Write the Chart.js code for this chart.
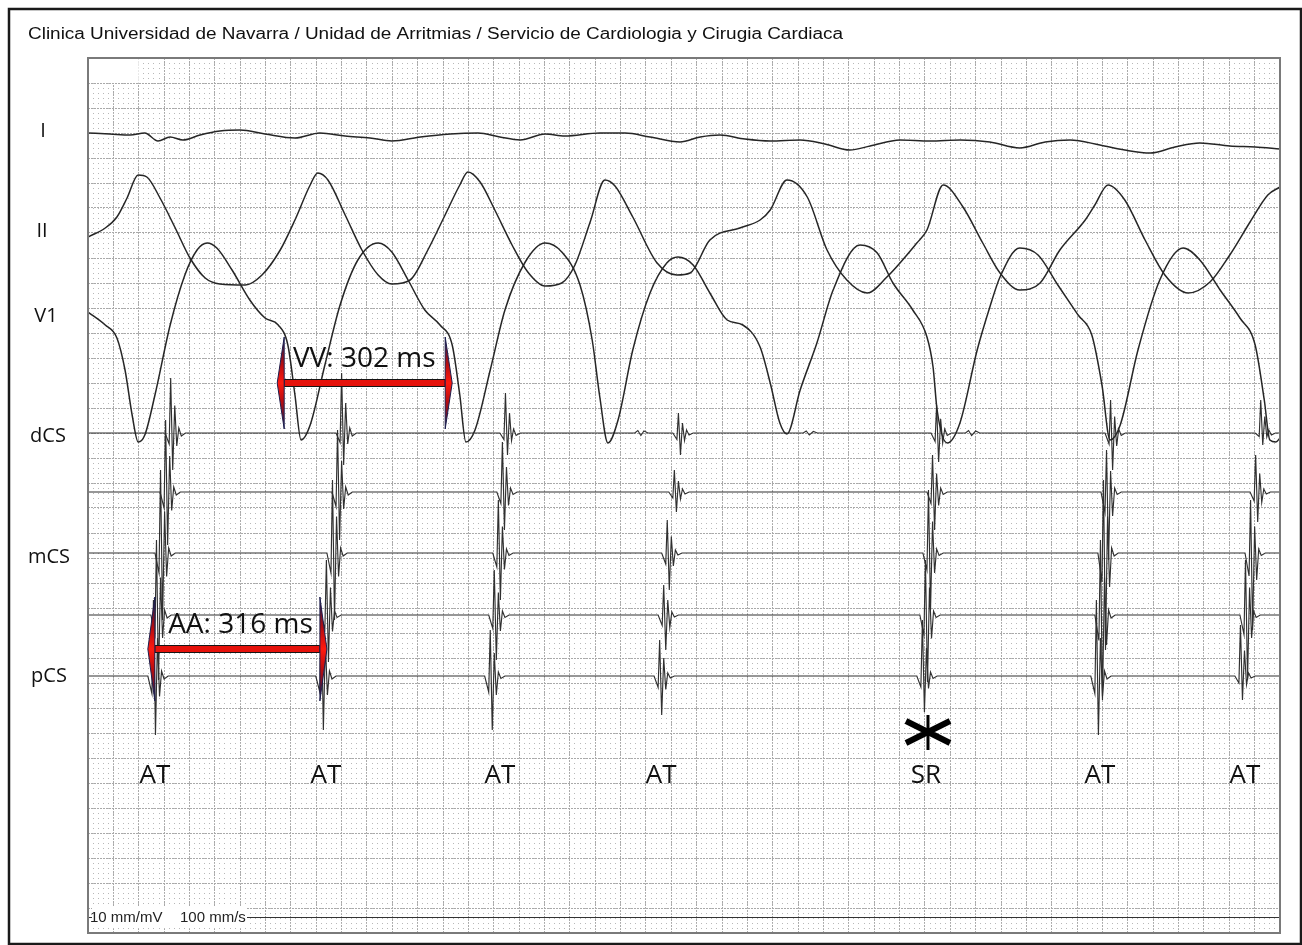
<!DOCTYPE html>
<html>
<head>
<meta charset="utf-8">
<title>Taquicardia auricular - electrogramas</title>
<script src="https://cdn.jsdelivr.net/npm/chart.js@4.4.1/dist/chart.umd.min.js"></script>
<style>
  html, body { margin: 0; padding: 0; background: #fff; }
  #wrap { width: 1302px; height: 945px; }
</style>
</head>
<body>
<div id="wrap"><canvas id="egm" width="1302" height="945"></canvas></div>
<script>
// Registro: 100 mm/s, 10 mm/mV. Tiempo en ms, amplitud en mV (respecto a la linea base de cada canal)

const T_MAX = 2350;      // ms visibles
const DEPTH = 175;       // mm de papel en vertical
const GAIN = 10;         // mm por mV

// Derivaciones de superficie
const leadI = [[0,0],[43,-0.02],[83,-0.04],[112,0],[138,-0.16],[162,-0.08],[187,-0.14],[221,-0.04],[260,0.04],[300,0.06],[349,-0.02],[408,-0.1],[457,0],[507,-0.06],[556,-0.1],[599,-0.16],[655,-0.08],[714,-0.02],[769,0],[812,-0.08],[852,-0.14],[901,-0.02],[940,-0.06],[1009,0],[1059,0],[1108,-0.08],[1167,-0.18],[1207,-0.08],[1246,-0.04],[1295,-0.12],[1345,-0.16],[1404,-0.14],[1453,-0.22],[1502,-0.34],[1542,-0.26],[1601,-0.14],[1660,-0.16],[1719,-0.14],[1778,-0.18],[1837,-0.3],[1887,-0.18],[1936,-0.14],[1995,-0.24],[2044,-0.34],[2094,-0.4],[2143,-0.28],[2192,-0.2],[2251,-0.26],[2301,-0.28],[2350,-0.32]];

const leadII = [[0,-0.08],[34,0.1],[57,0.32],[77,0.7],[99,1.16],[116,1.12],[142,0.7],[172,0.1],[201,-0.5],[231,-0.9],[260,-1.02],[310,-1.04],[343,-0.84],[379,-0.34],[408,0.26],[438,0.96],[453,1.2],[473,1.06],[507,0.36],[540,-0.34],[572,-0.84],[599,-1.02],[635,-0.94],[670,-0.34],[704,0.36],[733,0.96],[749,1.22],[773,1.02],[802,0.46],[836,-0.24],[867,-0.78],[901,-1.06],[934,-1.0],[960,-0.64],[990,0.22],[1019,1.06],[1039,0.94],[1074,0.32],[1122,-0.6],[1161,-0.84],[1187,-0.8],[1226,-0.14],[1285,0.1],[1325,0.26],[1345,0.46],[1378,1.06],[1418,0.72],[1457,-0.34],[1496,-0.94],[1536,-1.2],[1575,-0.88],[1634,-0.2],[1654,0.06],[1686,0.96],[1725,0.52],[1764,-0.2],[1798,-0.8],[1837,-1.14],[1877,-1.0],[1916,-0.34],[1966,0.26],[1985,0.56],[2011,0.96],[2044,0.66],[2084,-0.14],[2123,-0.84],[2169,-1.2],[2212,-0.98],[2251,-0.44],[2291,0.22],[2326,0.76],[2350,0.92]];

const leadV1 = [[0,0.12],[34,-0.14],[57,-0.4],[73,-1.04],[87,-1.94],[99,-2.48],[112,-2.34],[132,-1.54],[162,-0.14],[191,0.86],[215,1.36],[235,1.5],[254,1.4],[284,0.96],[319,0.36],[349,0],[375,-0.14],[394,-0.54],[408,-1.54],[420,-2.44],[438,-2.14],[467,-0.94],[497,0.26],[532,1.16],[572,1.5],[599,1.32],[631,0.76],[664,0.16],[694,-0.14],[718,-0.54],[733,-1.54],[745,-2.48],[763,-2.24],[793,-1.04],[822,0.16],[862,1.12],[901,1.5],[934,1.32],[970,0.66],[994,-0.44],[1009,-1.58],[1025,-2.5],[1045,-2.04],[1074,-0.64],[1108,0.5],[1141,1.1],[1163,1.22],[1193,1.06],[1226,0.5],[1260,-0.04],[1291,-0.14],[1325,-0.58],[1345,-1.3],[1364,-2.1],[1378,-2.32],[1404,-1.44],[1437,-0.5],[1469,0.56],[1522,1.46],[1556,1.3],[1587,0.7],[1626,0.16],[1654,-0.38],[1666,-0.98],[1674,-1.84],[1694,-2.5],[1719,-2.1],[1753,-0.64],[1778,0.22],[1798,0.82],[1837,1.4],[1873,1.26],[1912,0.66],[1952,0.06],[1979,-0.34],[1999,-1.34],[2015,-2.44],[2035,-2.14],[2070,-0.64],[2113,0.76],[2159,1.4],[2192,1.16],[2232,0.56],[2271,0],[2301,-0.54],[2319,-1.64],[2330,-2.44],[2342,-2.48],[2350,-2.4]];

// Seno coronario (distal -> proximal)
const csDistal = [[0,0],
  [152,0],[160,-0.22],[163,1.1],[167,-0.74],[171,0.55],[175,-0.26],[179,0.1],[184,-0.06],[192,0],
  [489,0],[497,-0.19],[500,1.2],[504,-0.64],[508,0.6],[512,-0.22],[516,0.1],[521,-0.06],[529,0],
  [812,0],[820,-0.13],[823,0.8],[827,-0.44],[831,0.4],[835,-0.15],[839,0.08],[844,-0.05],[852,0],
  [1078,0],[1084,0.05],[1090,-0.05],[1096,0.04],[1104,0],
  [1153,0],[1161,-0.13],[1164,0.4],[1168,-0.44],[1172,0.2],[1176,-0.15],[1180,0.06],[1185,-0.04],[1193,0],
  [1410,0],[1416,0.04],[1422,-0.04],[1430,0.03],[1438,0],
  [1662,0],[1670,-0.17],[1673,0.56],[1677,-0.58],[1681,0.28],[1685,-0.2],[1689,0.08],[1694,-0.05],[1702,0],
  [1730,0],[1736,0.05],[1742,-0.05],[1750,0.04],[1758,0],
  [2005,0],[2013,-0.22],[2016,0.66],[2020,-0.74],[2024,0.33],[2028,-0.26],[2032,0.08],[2037,-0.05],[2045,0],
  [2301,0],[2309,-0.07],[2312,0.66],[2316,-0.24],[2320,0.33],[2324,-0.08],[2328,0.06],[2333,-0.04],[2341,0],
  [2350,0]];

const cs2 = [[0,0],
  [142,0],[150,-0.32],[153,1.44],[157,-1.06],[161,0.72],[165,-0.37],[169,0.1],[174,-0.06],[182,0],
  [481,0],[489,-0.29],[492,1.24],[496,-0.96],[500,0.62],[504,-0.34],[508,0.1],[513,-0.06],[521,0],
  [806,0],[814,-0.23],[817,1.0],[821,-0.76],[825,0.5],[829,-0.27],[833,0.08],[838,-0.05],[846,0],
  [1145,0],[1153,-0.12],[1156,0.44],[1160,-0.4],[1164,0.22],[1168,-0.14],[1172,0.06],[1177,-0.04],[1185,0],
  [1654,0],[1662,-0.23],[1665,0.74],[1669,-0.76],[1673,0.37],[1677,-0.27],[1681,0.08],[1686,-0.05],[1694,0],
  [1997,0],[2005,-0.41],[2008,0.84],[2012,-1.36],[2016,0.42],[2020,-0.48],[2024,0.08],[2029,-0.05],[2037,0],
  [2291,0],[2299,-0.18],[2302,0.74],[2306,-0.6],[2310,0.37],[2314,-0.21],[2318,0.06],[2323,-0.04],[2331,0],
  [2350,0]];

const csMid = [[0,0],
  [132,0],[140,-0.4],[143,1.66],[147,-1.34],[151,0.83],[155,-0.47],[159,0.1],[164,-0.06],[172,0],
  [471,0],[479,-0.4],[482,1.46],[486,-1.34],[490,0.73],[494,-0.47],[498,0.1],[503,-0.06],[511,0],
  [798,0],[806,-0.28],[809,1.06],[813,-0.94],[817,0.53],[821,-0.33],[825,0.08],[830,-0.05],[838,0],
  [1131,0],[1139,-0.22],[1142,0.66],[1146,-0.74],[1150,0.33],[1154,-0.26],[1158,0.06],[1163,-0.04],[1171,0],
  [1646,0],[1654,-0.34],[1657,1.26],[1661,-1.14],[1665,0.63],[1669,-0.4],[1673,0.08],[1678,-0.05],[1686,0],
  [1991,0],[1999,-0.58],[2002,1.46],[2006,-1.94],[2010,0.73],[2014,-0.68],[2018,0.1],[2023,-0.06],[2031,0],
  [2281,0],[2289,-0.46],[2292,1.06],[2296,-1.54],[2300,0.53],[2304,-0.54],[2308,0.08],[2313,-0.05],[2321,0],
  [2350,0]];

const cs4 = [[0,0],
  [124,0],[132,-0.39],[135,1.5],[139,-1.3],[143,0.75],[147,-0.46],[151,0.1],[156,-0.06],[164,0],
  [459,0],[467,-0.28],[470,1.1],[474,-0.94],[478,0.55],[482,-0.33],[486,0.08],[491,-0.05],[499,0],
  [790,0],[798,-0.27],[801,0.9],[805,-0.9],[809,0.45],[813,-0.32],[817,0.08],[822,-0.05],[830,0],
  [1124,0],[1132,-0.21],[1135,0.6],[1139,-0.7],[1143,0.3],[1147,-0.25],[1151,0.06],[1156,-0.04],[1164,0],
  [1640,0],[1648,-0.4],[1651,1.1],[1655,-1.34],[1659,0.55],[1663,-0.47],[1667,0.08],[1672,-0.05],[1680,0],
  [1985,0],[1993,-0.51],[1996,1.5],[2000,-1.7],[2004,0.75],[2008,-0.6],[2012,0.1],[2017,-0.06],[2025,0],
  [2271,0],[2279,-0.39],[2282,1.1],[2286,-1.3],[2290,0.55],[2294,-0.46],[2298,0.08],[2303,-0.05],[2311,0],
  [2350,0]];

const csProx = [[0,0],
  [118,0],[126,-0.35],[129,1.52],[133,-1.18],[137,0.76],[141,-0.41],[145,0.1],[150,-0.06],[158,0],
  [449,0],[457,-0.32],[460,1.32],[464,-1.08],[468,0.66],[472,-0.38],[476,0.1],[481,-0.06],[489,0],
  [782,0],[790,-0.32],[793,0.92],[797,-1.08],[801,0.46],[805,-0.38],[809,0.08],[814,-0.05],[822,0],
  [1116,0],[1124,-0.23],[1127,0.72],[1131,-0.78],[1135,0.36],[1139,-0.27],[1143,0.06],[1148,-0.04],[1156,0],
  [1634,0],[1642,-0.22],[1645,1.12],[1649,-0.72],[1653,0.56],[1657,-0.25],[1661,0.08],[1666,-0.05],[1674,0],
  [1977,0],[1985,-0.35],[1988,1.52],[1992,-1.18],[1996,0.76],[2000,-0.41],[2004,0.1],[2009,-0.06],[2017,0],
  [2261,0],[2269,-0.14],[2272,1.02],[2276,-0.48],[2280,0.51],[2284,-0.17],[2288,0.06],[2293,-0.04],[2301,0],
  [2350,0]];

// Anotaciones del trazado
const beatLabels = ['AT', 'AT', 'AT', 'AT', 'SR', 'AT', 'AT'];
const beatLabelTimes = [132, 469, 812, 1130, 1652, 1995, 2281];
const srMarkTime = 1656;
const vvInterval = [373, 718];   // ms, flecha "VV: 302 ms"
const aaInterval = [118, 471];   // ms, flecha "AA: 316 ms"

// canales: nombre, muestras, linea base (mm desde arriba), suavizado, posicion de etiqueta
const channels = [
  { name: 'I',   samples: leadI,     base: -15,    smooth: true,  labelX: 43, labelDy: 4 },
  { name: 'II',  samples: leadII,    base: -35,    smooth: true,  labelX: 42, labelDy: 4 },
  { name: 'V1',  samples: leadV1,    base: -52,    smooth: true,  labelX: 46, labelDy: 4 },
  { name: 'dCS', samples: csDistal,  base: -75,    smooth: false, labelX: 48, labelDy: 9 },
  { name: '',    samples: cs2,       base: -86.8,  smooth: false, labelX: 0,  labelDy: 0 },
  { name: 'mCS', samples: csMid,     base: -99,    smooth: false, labelX: 49, labelDy: 10 },
  { name: '',    samples: cs4,       base: -111.4, smooth: false, labelX: 0,  labelDy: 0 },
  { name: 'pCS', samples: csProx,    base: -123.6, smooth: false, labelX: 49, labelDy: 6 }
];

function toPoints(samples, base) {
  return samples.map(s => ({ x: s[0], y: base + s[1] * GAIN }));
}

const datasets = channels.map(ch => ({
  label: ch.name,
  data: toPoints(ch.samples, ch.base),
  borderColor: ch.smooth ? '#262626' : '#303030',
  borderWidth: ch.smooth ? 1.5 : 1.15,
  pointRadius: 0,
  cubicInterpolationMode: ch.smooth ? 'monotone' : 'default',
  tension: 0,
  fill: false
}));

// Flecha doble roja con puntas alargadas
function drawArrow(ctx, x1, x2, yc, headH, headL, shaft) {
  ctx.save();
  ctx.fillStyle = '#e6120b';
  ctx.strokeStyle = '#151515';
  ctx.lineWidth = 1;
  ctx.beginPath();
  ctx.rect(x1 + headL, yc - shaft / 2, x2 - x1 - 2 * headL, shaft);
  ctx.fill();
  ctx.stroke();
  [[x1, x1 + headL], [x2, x2 - headL]].forEach(([tip, base]) => {
    const g = ctx.createLinearGradient(0, yc - headH, 0, yc + headH);
    g.addColorStop(0, '#1b1d4d');
    g.addColorStop(0.3, '#b80d10');
    g.addColorStop(0.5, '#ff1a0f');
    g.addColorStop(0.7, '#b80d10');
    g.addColorStop(1, '#1b1d4d');
    ctx.beginPath();
    ctx.moveTo(tip, yc);
    ctx.lineTo(base, yc - headH);
    ctx.lineTo(base, yc + headH);
    ctx.closePath();
    ctx.fillStyle = g;
    ctx.fill();
    ctx.strokeStyle = '#1b1d4d';
    ctx.lineWidth = 1;
    ctx.stroke();
  });
  ctx.restore();
}

const paperPlugin = {
  id: 'paper',
  beforeDatasetsDraw(chart) {
    const { ctx, chartArea: a, scales: { x, y } } = chart;
    ctx.save();
    // esquina superior izquierda sin cuadricula
    ctx.fillStyle = '#fff';
    ctx.fillRect(a.left, a.top, x.getPixelForValue(100) - a.left, y.getPixelForValue(-5) - a.top);
    // linea de calibracion
    const yc = Math.round(y.getPixelForValue(-171.8)) + 0.5;
    ctx.strokeStyle = '#333';
    ctx.lineWidth = 1;
    ctx.beginPath();
    ctx.moveTo(a.left, yc);
    ctx.lineTo(a.right, yc);
    ctx.stroke();
    ctx.fillStyle = '#fff';
    ctx.fillRect(a.left + 4, yc - 11, 155, 21);
    ctx.fillStyle = '#222';
    ctx.font = '15px "Liberation Sans", Arial, sans-serif';
    ctx.textBaseline = 'alphabetic';
    ctx.fillText('10 mm/mV', a.left + 2, yc + 4.5);
    ctx.fillText('100 mm/s', a.left + 92, yc + 4.5);
    ctx.restore();
  },
  afterDatasetsDraw(chart) {
    const { ctx, chartArea: a, scales: { x, y } } = chart;
    ctx.save();

    // marco del papel
    ctx.strokeStyle = '#7a7a7a';
    ctx.lineWidth = 2;
    ctx.strokeRect(a.left, a.top, a.right - a.left, a.bottom - a.top);

    // marco exterior
    ctx.strokeStyle = '#1a1a1a';
    ctx.lineWidth = 2.5;
    ctx.strokeRect(9, 9, chart.width - 10, chart.height - 10);

    // titulo
    ctx.fillStyle = '#111';
    ctx.font = '16px "Liberation Sans", Arial, sans-serif';
    ctx.textBaseline = 'alphabetic';
    const title = 'Clinica Universidad de Navarra / Unidad de Arritmias / Servicio de Cardiologia y Cirugia Cardiaca';
    const tw = ctx.measureText(title).width;
    ctx.save();
    ctx.translate(28, 39);
    ctx.scale(815 / tw, 1);
    ctx.fillText(title, 0, 0);
    ctx.restore();

    // nombres de canal
    ctx.font = '20px "Open Sans", sans-serif';
    ctx.textAlign = 'center';
    channels.forEach(ch => {
      if (!ch.name) return;
      ctx.fillText(ch.name, ch.labelX, y.getPixelForValue(ch.base) + ch.labelDy);
    });

    // flechas de intervalos
    drawArrow(ctx, x.getPixelForValue(vvInterval[0]), x.getPixelForValue(vvInterval[1]),
      y.getPixelForValue(-65), 46, 7, 7);
    drawArrow(ctx, x.getPixelForValue(aaInterval[0]), x.getPixelForValue(aaInterval[1]),
      y.getPixelForValue(-118.2), 52, 7, 7);

    ctx.fillStyle = '#111';
    ctx.font = '28px "Open Sans", sans-serif';
    ctx.textAlign = 'left';
    ctx.fillText('VV: 302 ms', x.getPixelForValue(404), y.getPixelForValue(-61.8));
    ctx.fillText('AA: 316 ms', x.getPixelForValue(158), y.getPixelForValue(-115));

    // etiquetas de latido
    ctx.font = '26px "Open Sans", sans-serif';
    ctx.textAlign = 'center';
    beatLabels.forEach((lab, i) => {
      ctx.fillText(lab, x.getPixelForValue(beatLabelTimes[i]), y.getPixelForValue(-145));
    });

    // asterisco del latido sinusal
    const sx = x.getPixelForValue(srMarkTime);
    const sy = y.getPixelForValue(-134.8);
    ctx.strokeStyle = '#000';
    ctx.lineCap = 'butt';
    ctx.lineWidth = 3;
    ctx.beginPath();
    ctx.moveTo(sx, sy - 17);
    ctx.lineTo(sx, sy + 18);
    ctx.stroke();
    ctx.lineWidth = 6;
    ctx.beginPath();
    ctx.moveTo(sx - 22, sy - 11);
    ctx.lineTo(sx + 22, sy + 11);
    ctx.moveTo(sx - 22, sy + 11);
    ctx.lineTo(sx + 22, sy - 11);
    ctx.stroke();

    ctx.restore();
  }
};

const ctx = document.getElementById('egm').getContext('2d');
const chart = new Chart(ctx, {
  type: 'line',
  data: { datasets: datasets },
  options: {
    responsive: false,
    animation: false,
    devicePixelRatio: 1,
    events: [],
    layout: { padding: { left: 88, top: 58, right: 22, bottom: 12 } },
    plugins: { legend: { display: false }, tooltip: { enabled: false } },
    scales: {
      x: {
        type: 'linear', min: 0, max: T_MAX,
        ticks: { display: false, stepSize: 50 },
        grid: { color: '#a9a9a9', lineWidth: 1, drawTicks: false },
        border: { display: false, dash: [2, 1] }
      },
      xMinor: {
        type: 'linear', axis: 'x', position: 'bottom', min: 0, max: T_MAX, z: -1,
        ticks: { display: false, stepSize: 10 },
        grid: { color: '#b8b8b8', lineWidth: 1, drawTicks: false },
        border: { display: false, dash: [1, 4] }
      },
      y: {
        type: 'linear', min: -DEPTH, max: 0,
        ticks: { display: false, stepSize: 5 },
        grid: { color: '#a9a9a9', lineWidth: 1, drawTicks: false },
        border: { display: false, dash: [2, 1] }
      }
    }
  },
  plugins: [paperPlugin]
});
</script>
</body>
</html>
